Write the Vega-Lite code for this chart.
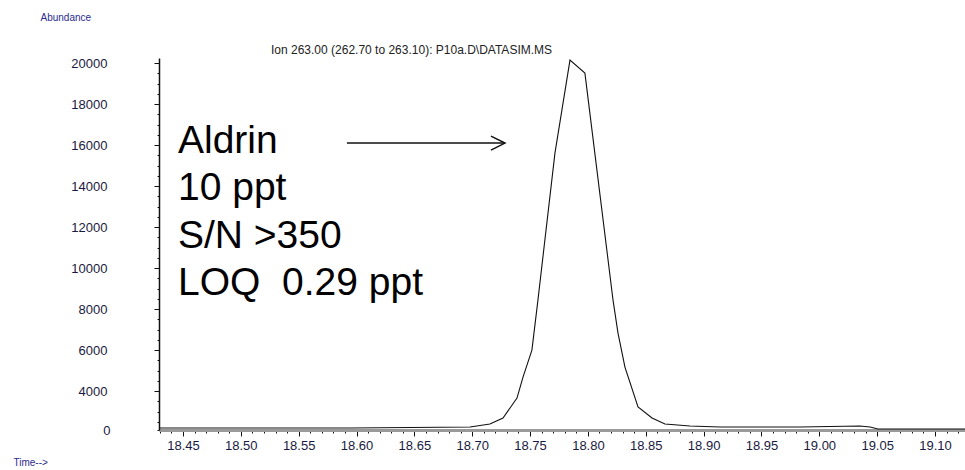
{
  "$schema": "https://vega.github.io/schema/vega-lite/v6.json",
  "width": 806,
  "height": 372,
  "autosize": {"type": "none"},
  "padding": {"left": 159, "top": 58, "right": 0, "bottom": 40},
  "background": "white",
  "config": {
    "view": {"stroke": null},
    "font": "Liberation Sans"
  },
  "title": {
    "text": "Ion 263.00 (262.70 to 263.10): P10a.D\\DATASIM.MS",
    "anchor": "start",
    "dx": 258,
    "dy": 47,
    "offset": 2,
    "fontSize": 12,
    "fontWeight": "normal",
    "color": "#222222",
    "font": "Liberation Sans"
  },
  "datasets": {
    "trace": [
      {"time": 18.4293, "abundance": 2195},
      {"time": 18.5079, "abundance": 2195},
      {"time": 18.5943, "abundance": 2195},
      {"time": 18.6981, "abundance": 2244},
      {"time": 18.7153, "abundance": 2390},
      {"time": 18.7266, "abundance": 2683},
      {"time": 18.7387, "abundance": 3658},
      {"time": 18.7439, "abundance": 4683},
      {"time": 18.7516, "abundance": 6000},
      {"time": 18.7568, "abundance": 8439},
      {"time": 18.7715, "abundance": 15610},
      {"time": 18.7845, "abundance": 20146},
      {"time": 18.7974, "abundance": 19512},
      {"time": 18.8217, "abundance": 8439},
      {"time": 18.826, "abundance": 6829},
      {"time": 18.832, "abundance": 5171},
      {"time": 18.8433, "abundance": 3220},
      {"time": 18.8554, "abundance": 2683},
      {"time": 18.8666, "abundance": 2390},
      {"time": 18.8882, "abundance": 2293},
      {"time": 18.9141, "abundance": 2244},
      {"time": 18.9833, "abundance": 2244},
      {"time": 19.0351, "abundance": 2293},
      {"time": 19.0438, "abundance": 2244},
      {"time": 19.0507, "abundance": 2146},
      {"time": 19.1259, "abundance": 2146}
    ],
    "notes": [
      {"time": 18.4457, "abundance": 15610, "text": "Aldrin"},
      {"time": 18.4457, "abundance": 13317, "text": "10 ppt"},
      {"time": 18.4457, "abundance": 10976, "text": "S/N >350"},
      {"time": 18.4457, "abundance": 8683, "text": "LOQ\u00a0 0.29 ppt"}
    ],
    "arrow": [
      {"time": 18.5917, "time2": 18.7283, "abundance": 16098}
    ],
    "arrowhead": [
      {"time": 18.7283, "abundance": 16098}
    ]
  },
  "encoding": {
    "x": {
      "field": "time",
      "type": "quantitative",
      "scale": {"domain": [18.4293, 19.1259], "nice": false, "zero": false},
      "axis": {
        "values": [18.43,18.44,18.45,18.46,18.47,18.48,18.49,18.5,18.51,18.52,18.53,18.54,18.55,18.56,18.57,18.58,18.59,18.6,18.61,18.62,18.63,18.64,18.65,18.66,18.67,18.68,18.69,18.7,18.71,18.72,18.73,18.74,18.75,18.76,18.77,18.78,18.79,18.8,18.81,18.82,18.83,18.84,18.85,18.86,18.87,18.88,18.89,18.9,18.91,18.92,18.93,18.94,18.95,18.96,18.97,18.98,18.99,19.0,19.01,19.02,19.03,19.04,19.05,19.06,19.07,19.08,19.09,19.1,19.11,19.12],
        "format": ".2f",
        "labelExpr": "abs(datum.value*20 - round(datum.value*20)) < 0.001 ? datum.label : ''",
        "labelDx": -18,
        "labelPadding": 3,
        "labelFontSize": 13,
        "labelColor": "#1a1a40",
        "labelFont": "Liberation Sans",
        "labelOverlap": false,
        "labelFlush": false,
        "labelBound": false,
        "tickColor": "#111111",
        "tickSize": {"condition": {"test": "abs(datum.value*20 - round(datum.value*20)) < 0.001", "value": 6}, "value": 3},
        "tickWidth": 1,
        "domainColor": "#9a9a9a",
        "domainWidth": 3,
        "grid": false,
        "title": "Time-->",
        "titleFont": "Liberation Sans",
        "titleFontSize": 10,
        "titleFontWeight": "normal",
        "titleColor": "#2b2b8f",
        "titleAnchor": "start",
        "titleAlign": "left",
        "titleBaseline": "middle",
        "titleX": -146,
        "titleY": 32
      }
    },
    "y": {
      "field": "abundance",
      "type": "quantitative",
      "scale": {"domain": [2100, 20250], "nice": false, "zero": false},
      "axis": {
        "values": [2100,2500,3000,3500,4000,4500,5000,5500,6000,6500,7000,7500,8000,8500,9000,9500,10000,10500,11000,11500,12000,12500,13000,13500,14000,14500,15000,15500,16000,16500,17000,17500,18000,18500,19000,19500,20000],
        "format": "d",
        "labelExpr": "datum.value < 2400 ? '0' : (datum.value % 2000 == 0 ? datum.label : '')",
        "labelPadding": 47,
        "labelFontSize": 13,
        "labelColor": "#1a1a40",
        "labelFont": "Liberation Sans",
        "labelOverlap": false,
        "labelFlush": false,
        "labelBound": false,
        "tickColor": "#111111",
        "tickSize": {"condition": {"test": "datum.value % 2000 == 0", "value": 5}, "value": 2},
        "tickWidth": 1,
        "domainColor": "#111111",
        "domainWidth": 1.5,
        "grid": false,
        "title": "Abundance",
        "titleFont": "Liberation Sans",
        "titleFontSize": 10,
        "titleFontWeight": "normal",
        "titleColor": "#2b2b8f",
        "titleAngle": 0,
        "titleAlign": "left",
        "titleBaseline": "middle",
        "titleX": -119,
        "titleY": -41
      }
    }
  },
  "layer": [
    {
      "data": {"name": "trace"},
      "mark": {"type": "line", "color": "#111111", "strokeWidth": 1.1, "clip": true}
    },
    {
      "data": {"name": "notes"},
      "mark": {"type": "text", "align": "left", "baseline": "alphabetic", "fontSize": 39, "font": "Liberation Sans", "color": "#000000"},
      "encoding": {
        "text": {"field": "text", "type": "nominal"}
      }
    },
    {
      "data": {"name": "arrow"},
      "mark": {"type": "rule", "color": "#111111", "strokeWidth": 1.5},
      "encoding": {
        "x2": {"field": "time2"}
      }
    },
    {
      "data": {"name": "arrowhead"},
      "mark": {"type": "point", "shape": "M-1,-0.5L0,0L-1,0.5", "filled": false, "size": 784, "color": "#111111", "strokeWidth": 1.5, "opacity": 1}
    }
  ]
}
